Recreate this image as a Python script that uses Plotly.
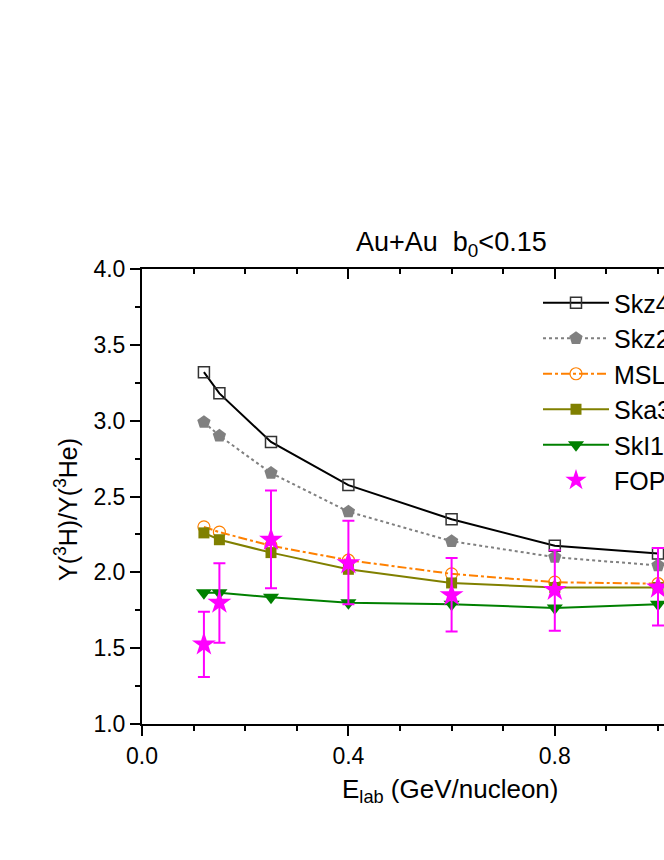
import plotly.graph_objects as go

E = [0.12, 0.15, 0.25, 0.4, 0.6, 0.8, 1.0]
skz4 = [3.32, 3.18, 2.86, 2.575, 2.35, 2.175, 2.125]
skz2 = [2.99, 2.90, 2.655, 2.40, 2.205, 2.10, 2.045]
msl0 = [2.30, 2.265, 2.175, 2.08, 1.99, 1.935, 1.925]
ska = [2.26, 2.215, 2.13, 2.02, 1.93, 1.90, 1.90]
ski1 = [1.865, 1.865, 1.835, 1.80, 1.79, 1.765, 1.79]
fopi = [1.525, 1.80, 2.215, 2.06, 1.85, 1.885, 1.90]
fopi_hi = [1.74, 2.06, 2.54, 2.34, 2.095, 2.145, 2.16]
fopi_lo = [1.31, 1.535, 1.895, 1.79, 1.61, 1.615, 1.65]
names = ["Skz4", "Skz2", "MSL0", "Ska35s25", "SkI1", "FOPI"]
ytick_vals = [1.0, 1.5, 2.0, 2.5, 3.0, 3.5, 4.0]
xtick_vals = [0.0, 0.4, 0.8, 1.2]

FONT = "Liberation Sans, Arial, sans-serif"

# page body margin removed by post_script -> figure at page origin
PAGE_W = 664
W, H = PAGE_W, 840
# plot area in page pixels
L, T, B = 142, 269, 724
px_per_unit = 516.0
x_right = (PAGE_W - L) / px_per_unit

def px(xpage):
    return (xpage - L) / (PAGE_W - L)

def py(ypage):
    return (B - ypage) / (B - T)

fig = go.Figure()

fig.add_trace(go.Scatter(x=E, y=skz4, name=names[0], mode="lines+markers",
    line=dict(color="black", width=2),
    marker=dict(symbol="square-open", size=11, color="#333333", line=dict(width=1.5))))
fig.add_trace(go.Scatter(x=E, y=skz2, name=names[1], mode="lines+markers",
    line=dict(color="#808080", width=2, dash="dot"),
    marker=dict(symbol="pentagon", size=14, color="#808080")))
fig.add_trace(go.Scatter(x=E, y=msl0, name=names[2], mode="lines+markers",
    line=dict(color="#FF8000", width=2, dash="dashdot"),
    marker=dict(symbol="circle-open", size=12, color="#FF8000", line=dict(width=1.2))))
fig.add_trace(go.Scatter(x=E, y=ska, name=names[3], mode="lines+markers",
    line=dict(color="#808000", width=2),
    marker=dict(symbol="square", size=11, color="#808000")))
fig.add_trace(go.Scatter(x=E, y=ski1, name=names[4], mode="lines+markers",
    line=dict(color="#008000", width=2),
    marker=dict(symbol="triangle-down", size=14, color="#008000")))
fig.add_trace(go.Scatter(x=E, y=fopi, name=names[5], mode="markers",
    marker=dict(symbol="star", size=18, color="#FF00FF", line=dict(width=0)),
    error_y=dict(type="data", symmetric=False,
                 array=[h - v for h, v in zip(fopi_hi, fopi)],
                 arrayminus=[v - l for v, l in zip(fopi, fopi_lo)],
                 color="#FF00FF", thickness=2, width=6)))

# dummy trace on top axis
fig.add_trace(go.Scatter(x=[None], y=[None], xaxis="x2", showlegend=False))

axis_common = dict(showline=True, linecolor="black", linewidth=2, showgrid=False, zeroline=False,
                   tickcolor="black", tickwidth=2, ticklen=10,
                   tickfont=dict(family=FONT, size=23, color="black"))

fig.update_layout(
    width=W, height=H,
    paper_bgcolor="white", plot_bgcolor="white",
    margin=dict(l=L, r=0, t=T, b=H - B, autoexpand=False),
    xaxis=dict(range=[0, x_right], tickvals=xtick_vals, tickformat=".1f", ticks="outside",
               minor=dict(dtick=0.1, tick0=0, ticks="outside", ticklen=5, tickwidth=2, tickcolor="black"),
               **axis_common),
    xaxis2=dict(range=[0, x_right], overlaying="x", side="top", tickvals=xtick_vals,
                showticklabels=False, ticks="inside",
                minor=dict(dtick=0.1, tick0=0, ticks="inside", ticklen=5, tickwidth=2, tickcolor="black"),
                **axis_common),
    yaxis=dict(range=[1, 4], tickvals=ytick_vals, tickformat=".1f", ticks="outside",
               minor=dict(dtick=0.25, tick0=1, ticks="outside", ticklen=5, tickwidth=2, tickcolor="black"),
               **axis_common),
    showlegend=True,
    legend=dict(x=px(538), y=py(280), xanchor="left", yanchor="top",
                font=dict(family=FONT, size=25, color="black"), itemwidth=66,
                bgcolor="rgba(0,0,0,0)", tracegroupgap=0, traceorder="normal"),
    annotations=[
        dict(text="Au+Au  b<sub>0</sub><0.15", xref="paper", yref="paper",
             x=px(451), y=py(244), xanchor="center", yanchor="middle",
             showarrow=False, font=dict(family=FONT, size=27, color="black")),
        dict(text="E<sub>lab</sub> (GeV/nucleon)", xref="paper", yref="paper",
             x=px(450), y=py(790), xanchor="center", yanchor="middle",
             showarrow=False, font=dict(family=FONT, size=26, color="black")),
        dict(text="Y(<sup>3</sup>H)/Y(<sup>3</sup>He)", xref="paper", yref="paper",
             x=px(66), y=py(510), xanchor="center", yanchor="middle",
             textangle=-90, showarrow=False, font=dict(family=FONT, size=25, color="black")),
    ],
)

fig.write_html("out.html", config={"displayModeBar": False},
               post_script="document.body.style.margin='0px';document.body.style.overflow='hidden';")
